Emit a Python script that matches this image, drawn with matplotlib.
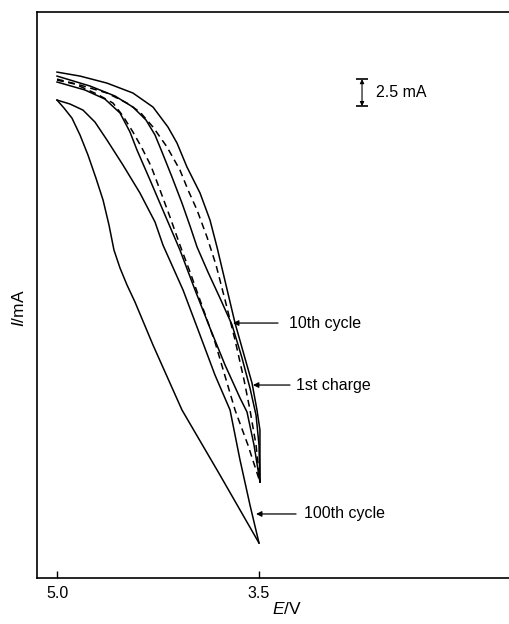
import matplotlib
matplotlib.use("Agg")
import matplotlib.pyplot as plt

plt.rcParams['font.family'] = ['Liberation Sans', 'DejaVu Sans']
plt.rcParams['mathtext.fontset'] = 'custom'
plt.rcParams['mathtext.it'] = 'Liberation Sans:italic'
plt.rcParams['mathtext.rm'] = 'Liberation Sans'

# potential (V) and current (mA, arbitrary zero)
# 100th cycle - lower/left branch
e_100a = [5.000, 4.948, 4.889, 4.829, 4.770, 4.711, 4.658, 4.614, 4.577, 4.532,
          4.480, 4.421, 4.287, 4.072, 3.790, 3.500]
i_100a = [44.26, 43.52, 42.59, 41.02, 39.17, 37.04, 35.00, 32.69, 30.37, 28.70,
          27.13, 25.56, 21.57, 15.56, 9.54, 3.24]
# 100th cycle - right branch
e_100b = [5.000, 4.903, 4.807, 4.718, 4.629, 4.510, 4.384, 4.272, 4.213, 4.064,
          3.938, 3.827, 3.715, 3.641, 3.567, 3.500]
i_100b = [44.26, 43.89, 43.33, 42.22, 40.56, 38.24, 35.65, 32.96, 30.83, 26.67,
          22.50, 18.80, 15.56, 10.93, 6.76, 3.24]
# outer solid branch (1st charge)
e_s1 = [5.000, 4.829, 4.629, 4.436, 4.287, 4.176, 4.109, 4.035, 3.938, 3.864,
        3.812, 3.745, 3.678, 3.611, 3.552, 3.515, 3.493, 3.493]
i_s1 = [46.85, 46.48, 45.83, 44.91, 43.61, 41.76, 40.28, 38.06, 35.65, 33.15,
        30.65, 27.13, 23.61, 20.65, 18.06, 15.56, 13.70, 8.89]
# 10th cycle branch
e_s2 = [5.000, 4.755, 4.569, 4.436, 4.339, 4.272, 4.220, 4.146, 4.072, 4.012,
        3.960, 3.879, 3.790, 3.700, 3.626, 3.567, 3.522, 3.500, 3.493]
i_s2 = [46.48, 45.56, 44.63, 43.61, 42.41, 41.02, 39.44, 37.13, 34.72, 32.59,
        30.65, 28.33, 25.93, 23.43, 20.37, 17.59, 15.09, 12.31, 8.89]
# inner solid branch
e_s3 = [5.000, 4.792, 4.644, 4.532, 4.458, 4.406, 4.309, 4.198, 4.087, 3.975,
        3.864, 3.752, 3.641, 3.589, 3.537, 3.493]
i_s3 = [45.93, 45.19, 44.35, 43.06, 41.30, 39.63, 36.85, 33.61, 30.37, 26.67,
        23.15, 19.72, 16.67, 15.37, 12.31, 8.89]
# dashed branches
e_d1 = [5.000, 4.829, 4.629, 4.480, 4.384, 4.287, 4.183, 4.087, 4.027, 3.960,
        3.886, 3.819, 3.752, 3.678, 3.611, 3.567, 3.522, 3.493]
i_d1 = [46.20, 45.65, 44.91, 43.98, 43.15, 41.76, 39.91, 37.78, 35.93, 34.07,
        31.57, 28.98, 25.74, 22.04, 18.33, 15.56, 12.31, 8.89]
e_d2 = [5.000, 4.866, 4.703, 4.584, 4.510, 4.436, 4.369, 4.302, 4.235, 4.161,
        4.087, 4.012, 3.938, 3.827, 3.678, 3.582, 3.493]
i_d2 = [46.11, 45.74, 44.81, 43.98, 42.78, 41.30, 39.81, 38.15, 35.93, 33.43,
        30.83, 28.33, 25.74, 21.85, 15.56, 12.31, 8.89]

x_ticks = [5.0, 3.5]
x_tick_labels = ["5.0", "3.5"]

fig = plt.figure(figsize=(5.09, 6.24), dpi=100)
ax = fig.add_axes([0.0727, 0.0737, 0.9273, 0.907])

for e, i in [(e_100a, i_100a), (e_100b, i_100b), (e_s1, i_s1),
             (e_s2, i_s2), (e_s3, i_s3)]:
    ax.plot(e, i, color="black", lw=1.1)
for e, i in [(e_d1, i_d1), (e_d2, i_d2)]:
    ax.plot(e, i, color="black", lw=1.1, dashes=(4.5, 3))

ax.set_xlim(5.1485, 1.6436)
ax.set_ylim(0, 52.41)
ax.set_xticks(x_ticks)
ax.set_xticklabels(x_tick_labels)
ax.set_yticks([])
ax.tick_params(axis="x", direction="in", length=5, width=1, pad=6, labelsize=11.5)
for side in ["left", "top", "bottom"]:
    ax.spines[side].set_linewidth(1.2)
ax.spines["right"].set_visible(False)

ax.text(0.530, -0.055, "$E$/V", transform=ax.transAxes, ha="center", va="center",
        fontsize=12.5)
ax.text(-0.038, 0.477, "$I$/mA", transform=ax.transAxes, ha="center", va="center",
        rotation=90, fontsize=12.5)

# labelled arrows
arrow = dict(arrowstyle="-|>", color="black", lw=0.9, mutation_scale=8,
             shrinkA=0, shrinkB=0)
labels = [("10th cycle", 3.693, 23.61, 3.359, 3.277),
          ("1st charge", 3.545, 17.87, 3.270, 3.225),
          ("100th cycle", 3.522, 5.93, 3.225, 3.166)]
for txt, tip_e, tip_i, tail_e, txt_e in labels:
    ax.annotate("", xy=(tip_e, tip_i), xytext=(tail_e, tip_i), arrowprops=arrow)
    ax.text(txt_e, tip_i, txt, ha="left", va="center", fontsize=11.5)

# 2.5 mA scale bar
bar_e, bar_lo, bar_hi = 2.735, 43.70, 46.20
ax.annotate("", xy=(bar_e, bar_hi), xytext=(bar_e, bar_lo),
            arrowprops=dict(arrowstyle="<|-|>", color="black", lw=0.8,
                            mutation_scale=6, shrinkA=0, shrinkB=0))
ax.plot([bar_e, bar_e], [bar_lo, bar_hi], ls="none", marker="_", ms=8,
        mew=1.2, color="black")
ax.text(2.631, 45.0, "2.5 mA", ha="left", va="center", fontsize=11.5)

fig.savefig("out.png", dpi=100)
